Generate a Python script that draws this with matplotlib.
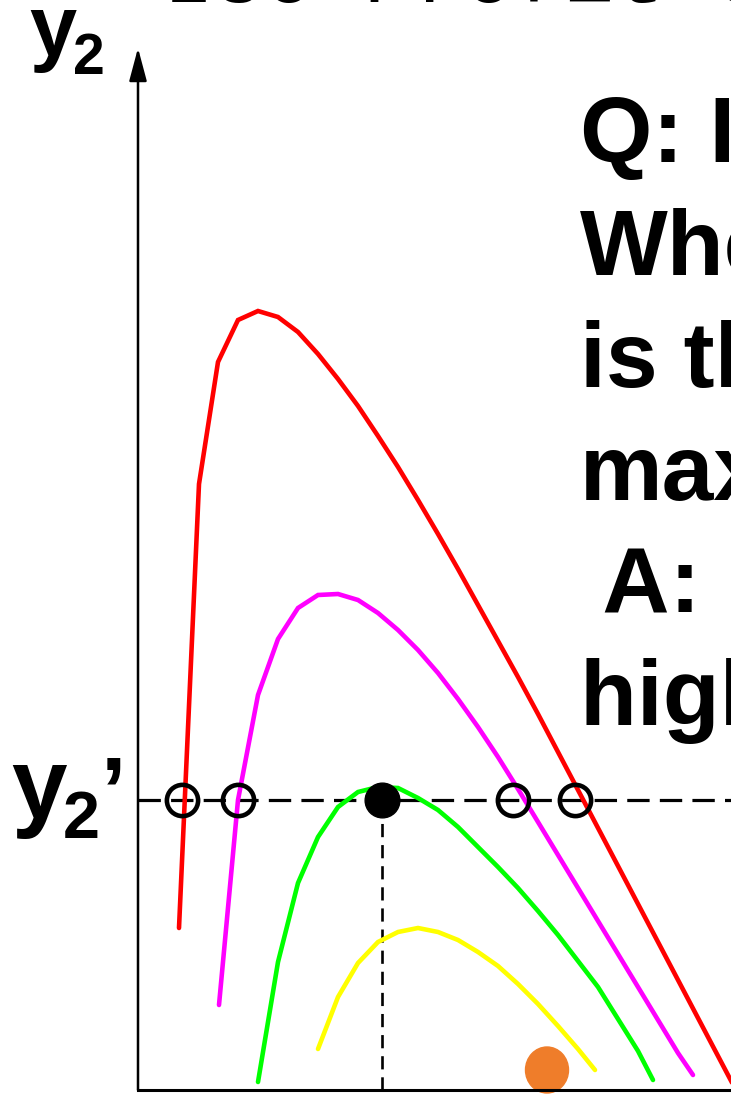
import matplotlib.pyplot as plt
from matplotlib.patches import Ellipse

# iso-profit curves, y2 plotted against y1 (origin at the corner of the axes)
red_x = [41, 61, 80, 100, 120, 140, 160, 180, 200, 220, 240, 260, 280, 300, 320,
         340, 360, 380, 400, 420, 440, 460, 480, 500, 520, 540, 560, 580, 600]
red_y = [162, 606, 728, 770, 779, 773, 758, 736, 711, 684, 654, 623, 590, 556, 521,
         485, 449, 413, 376, 338, 300, 262, 224, 186, 148, 110, 72, 34, -4]

magenta_x = [81, 100, 120, 140, 160, 180, 200, 220, 240, 260, 280, 300, 320, 340,
             360, 380, 400, 420, 440, 460, 480, 500, 520, 540, 555]
magenta_y = [85, 290, 395, 451, 482, 495, 496, 490, 477, 460, 440, 417, 391, 363,
             333, 301, 268, 235, 202, 169, 136, 103, 70, 37, 15]

green_x = [120, 140, 160, 180, 200, 220, 240, 260, 280, 300, 320, 340, 360, 380,
           400, 420, 440, 460, 480, 500, 515]
green_y = [8, 128, 207, 253, 283, 298, 303, 302, 292, 280, 263, 243, 223, 202,
           179, 155, 129, 103, 71, 39, 10]

yellow_x = [180, 200, 220, 240, 260, 280, 300, 320, 340, 360, 380, 400, 420, 440, 457]
yellow_y = [41, 93, 127, 148, 158, 162, 158, 150, 138, 124, 106, 86, 64, 41, 20]

# fixed level y2' and where the curves meet it
y2_fixed = 290
open_x = [44, 100, 375, 437]
best_x = 244

# pointer dot near the axis
dot_x, dot_y = 409, 20

W, H = 731, 1095
fig = plt.figure(figsize=(W / 100, H / 100), dpi=100)
ax = fig.add_axes([0, 0, 1, 1])
ax.set_xlim(-138, W - 138)
ax.set_ylim(-5, H - 5)
ax.axis('off')


def px(x, y):
    # pixel position (from top-left) to figure fraction
    return x / W, 1 - y / H


lw = 3.3
for xs, ys, c in [(red_x, red_y, '#ff0000'), (magenta_x, magenta_y, '#ff00ff'),
                  (green_x, green_y, '#00ff00'), (yellow_x, yellow_y, '#ffff00')]:
    ax.plot(xs, ys, color=c, lw=lw, solid_capstyle='round', solid_joinstyle='miter', zorder=3)

ax.add_patch(Ellipse((dot_x, dot_y), 43, 46, color='#ef7d2a', zorder=2))

# axes
ax.plot([0, 620], [0, 0], color='black', lw=2.2, zorder=4)
ax.annotate('', xy=(0, 1042), xytext=(0, 0),
            arrowprops=dict(arrowstyle='-|>,head_length=0.75,head_width=0.2',
                            mutation_scale=27, lw=1.8, color='black',
                            shrinkA=0, shrinkB=0), zorder=4)

# level line and the drop to the best point
ax.plot([0, 620], [y2_fixed, y2_fixed], color='black', lw=2.3,
        linestyle=(0, (7.0, 3.2)), zorder=2)
ax.plot([best_x, best_x], [0, y2_fixed], color='black', lw=1.9,
        linestyle=(0, (5.0, 3.0)), zorder=2)

ax.plot(open_x, [y2_fixed] * len(open_x), 'o', ms=22.5, mfc='none', mec='black',
        mew=3.3, zorder=5)
ax.plot([best_x], [y2_fixed], 'o', ms=25, color='black', mew=1, zorder=6)

bold = dict(family='Liberation Sans', weight='bold', color='black', va='baseline')

fig.text(*px(29, 55), 'y', fontsize=61, **bold)
fig.text(*px(73, 74), '2', fontsize=41, **bold)

fig.text(*px(11, 818), 'y', fontsize=72, **bold)
fig.text(*px(63, 838), '2', fontsize=48, **bold)
fig.text(*px(101, 821), '\u2019', fontsize=66, **bold)

lines = ["Q: If y2 = y2\u2019,", "Where", "is the profit", "maximized?",
         " A:", "highest iso-profit"]
for i, s in enumerate(lines):
    fig.text(*px(580, 162 + 112.6 * i), s, fontsize=67, **bold)

fig.text(*px(164, 2), 'Iso-Profit Curves', fontsize=60,
         family='Liberation Mono', color='black', va='baseline')

fig.savefig('out.png', dpi=100)
